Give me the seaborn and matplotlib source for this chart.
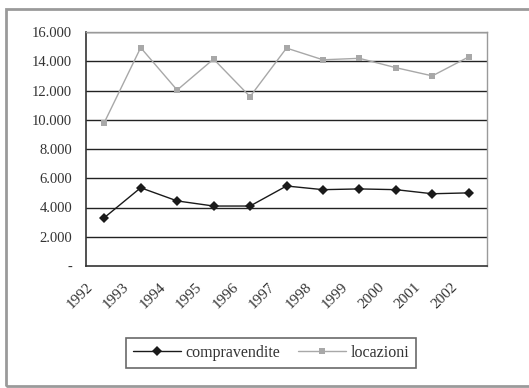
import matplotlib
matplotlib.use("Agg")
import matplotlib.pyplot as plt
import seaborn as sns
import pandas as pd
import numpy as np
from matplotlib.patches import Rectangle
from matplotlib.lines import Line2D

years = ["1992", "1993", "1994", "1995", "1996", "1997", "1998", "1999", "2000", "2001", "2002"]
compravendite = [3300, 5350, 4450, 4100, 4100, 5470, 5220, 5270, 5220, 4940, 5000]
locazioni = [9800, 14930, 12030, 14150, 11580, 14900, 14100, 14200, 13560, 13000, 14300]
y_ticks = [0, 2000, 4000, 6000, 8000, 10000, 12000, 14000, 16000]
y_labels = ["-", "2.000", "4.000", "6.000", "8.000", "10.000", "12.000", "14.000", "16.000"]

sns.set_style("white")
plt.rcParams['font.family'] = ['Liberation Serif', 'DejaVu Serif']

pos = [i + 0.5 for i in range(len(years))]
df = pd.DataFrame({
    "x": pos * 2,
    "value": compravendite + locazioni,
    "serie": ["compravendite"] * len(years) + ["locazioni"] * len(years),
})

fig = plt.figure(figsize=(5.29, 3.88), dpi=100)
ax = fig.add_axes([86 / 529, 1 - 266 / 388, (487 - 86) / 529, (266 - 32) / 388])

# outer chart border
fig.patches.append(Rectangle((6 / 529, 2 / 388), 1.2, 1 - 11 / 388, transform=fig.transFigure,
                             fill=False, edgecolor="#9a9a9a", linewidth=2.0, zorder=0))

for yt in y_ticks[1:]:
    ax.axhline(yt, color="#222222", linewidth=1.0, zorder=1)

sns.lineplot(data=df, x="x", y="value", hue="serie", style="serie",
             palette={"compravendite": "#1a1a1a", "locazioni": "#a8a8a8"},
             markers={"compravendite": "D", "locazioni": "s"},
             dashes=False, markersize=5, linewidth=1.0, ax=ax, legend=False,
             markeredgewidth=0, zorder=3)

ax.set_xlim(0, len(years))
ax.set_ylim(0, 16000)
ax.set_xticks(range(len(years) + 1))
ax.set_xticklabels(years + [""], rotation=45, ha="right", rotation_mode="anchor", fontsize=11)
ax.set_yticks(y_ticks)
ax.set_yticklabels(y_labels, fontsize=10.5)
ax.tick_params(axis="x", length=4, width=1, color="#333333", direction="out", pad=6)
ax.tick_params(axis="y", length=4, width=1, color="#333333", direction="out", pad=6)
for lbl in ax.get_xticklabels() + ax.get_yticklabels():
    lbl.set_color("#333333")
ax.set_xlabel("")
ax.set_ylabel("")
for side in ["top", "right"]:
    ax.spines[side].set_color("#9a9a9a")
    ax.spines[side].set_linewidth(1.0)
for side in ["left", "bottom"]:
    ax.spines[side].set_color("#333333")
    ax.spines[side].set_linewidth(1.2)

handles = [
    Line2D([], [], color="#1a1a1a", marker="D", markersize=5, linewidth=1.0, markeredgewidth=0),
    Line2D([], [], color="#a8a8a8", marker="s", markersize=4, linewidth=1.0, markeredgewidth=0),
]
leg = fig.legend(handles, ["compravendite", "locazioni"], loc="center",
                 bbox_to_anchor=(271 / 529, 1 - 353 / 388), ncol=2, frameon=True,
                 fancybox=False, edgecolor="#444444", fontsize=11.5, handlelength=3.0,
                 columnspacing=1.1, borderpad=0.45, handletextpad=0.3, borderaxespad=0)
leg.get_frame().set_linewidth(1.2)
for t in leg.get_texts():
    t.set_color("#333333")

fig.savefig("out.png", dpi=100)
